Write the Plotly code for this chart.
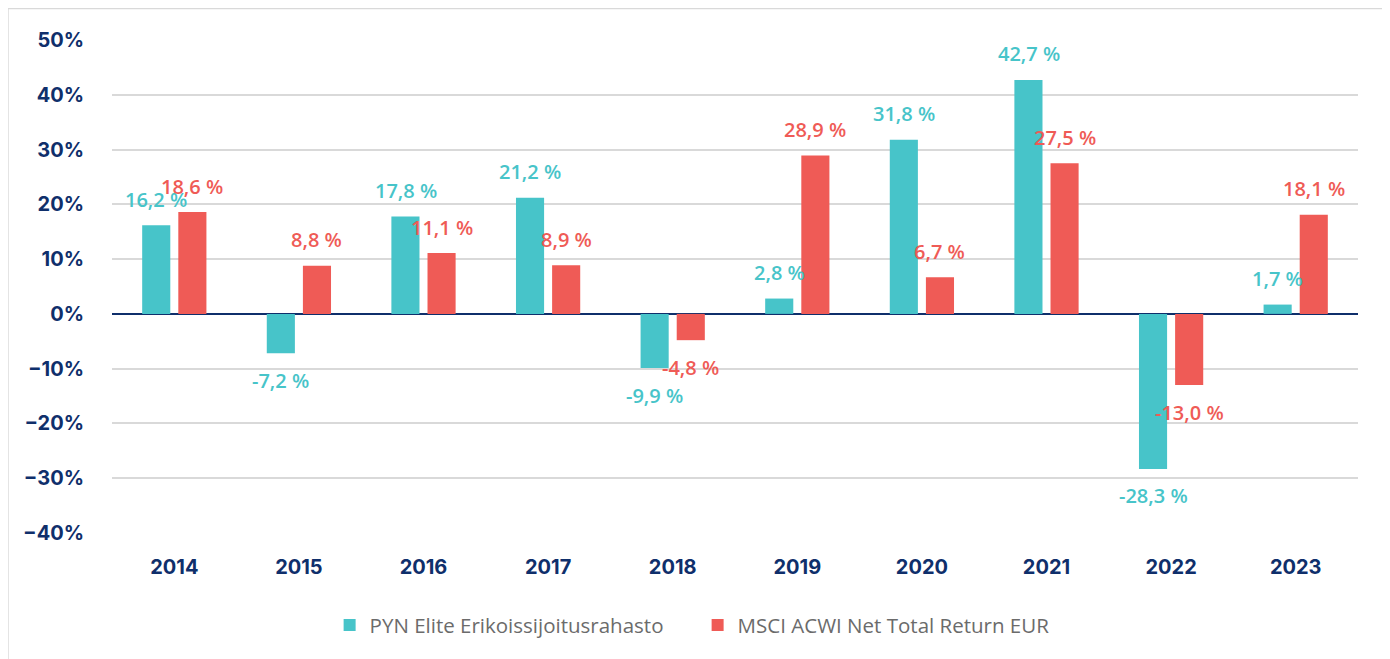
import plotly.graph_objects as go

years = ["2014", "2015", "2016", "2017", "2018", "2019", "2020", "2021", "2022", "2023"]
pyn = [16.2, -7.2, 17.8, 21.2, -9.9, 2.8, 31.8, 42.7, -28.3, 1.7]
msci = [18.6, 8.8, 11.1, 8.9, -4.8, 28.9, 6.7, 27.5, -13.0, 18.1]
series_names = ["PYN Elite Erikoissijoitusrahasto", "MSCI ACWI Net Total Return EUR"]
colors = ["#47C4C9", "#EF5B56"]
ytick_vals = [50, 40, 30, 20, 10, 0, -10, -20, -30, -40]
ytick_text = ["50%", "40%", "30%", "20%", "10%", "0%", "\u221210%", "\u221220%", "\u221230%", "\u221240%"]

def fmt(v):
    return ("%.1f %%" % v).replace(".", ",")

fig = go.Figure()
for name, vals, col in zip(series_names, [pyn, msci], colors):
    fig.add_trace(go.Bar(x=years, y=vals, name=name, marker=dict(color=col, line=dict(width=0))))

# data labels (x given as category index)
for i, (vals, col) in enumerate(zip([pyn, msci], colors)):
    xs = -18 if i == 0 else 18
    for idx, v in enumerate(vals):
        fig.add_annotation(x=idx, y=v, xref="x", yref="y", text=fmt(v), showarrow=False, xshift=xs,
                           yshift=26 if v >= 0 else -27, yanchor="middle",
                           font=dict(family="Open Sans", size=20, color=col, weight=600))

# outer border
fig.add_shape(type="rect", xref="paper", yref="paper", x0=-0.0835, x1=1.0245, y0=-0.3, y1=1.064,
              line=dict(color="#D9D9D9", width=1.5), fillcolor="rgba(0,0,0,0)", layer="below")

fig.update_layout(
    width=1382, height=651,
    margin=dict(l=104, r=32, t=32, b=126),
    plot_bgcolor="white", paper_bgcolor="white",
    barmode="group", bargap=0.42, bargroupgap=0.222,
    showlegend=True,
    legend=dict(orientation="h", x=0.470, xanchor="center", y=-0.187, yanchor="middle",
                font=dict(family="Open Sans", size=20.5, color="#6B6B6B"),
                itemwidth=30, entrywidth=323, entrywidthmode="pixels"),
    xaxis=dict(type="category", range=[-0.5, len(years) - 0.5],
               showgrid=False, showline=False, zeroline=False, ticks="",
               tickfont=dict(family="Inter", size=20, color="#0F2F6B", weight=700),
               ticklabelstandoff=20),
    yaxis=dict(range=[-40, 50], tickvals=ytick_vals, ticktext=ytick_text,
               showgrid=True, gridcolor="#D9D9D9", gridwidth=1.5,
               zeroline=True, zerolinecolor="#0F2F6B", zerolinewidth=2,
               showline=False, ticks="",
               tickfont=dict(family="Inter", size=20, color="#0F2F6B", weight=700),
               ticklabelstandoff=27),
)

fig.write_html("out.html")
